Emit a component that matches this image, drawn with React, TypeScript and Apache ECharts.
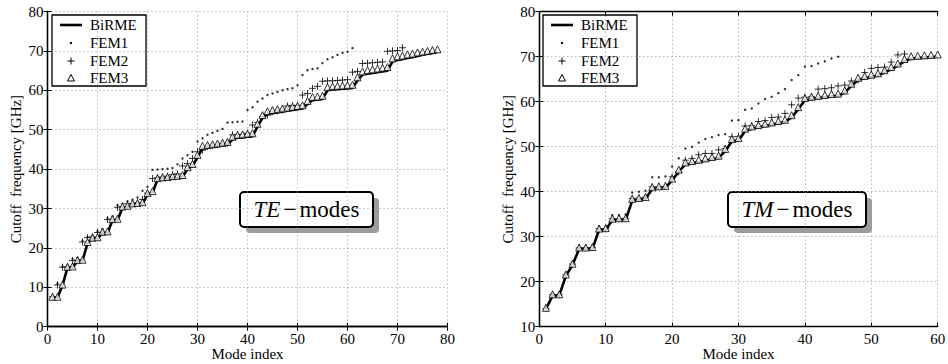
import React, { useEffect, useRef } from "react";
import * as echarts from "echarts";

// ---- TE modes: cutoff frequency [GHz] per mode index (1-based) ----
const teBirme = [
  7.4, 7.4, 10.5, 15.0, 15.0, 16.7, 16.7, 21.2, 22.3, 22.3,
  23.8, 23.8, 27.0, 27.0, 30.2, 30.3, 31.0, 31.0, 31.2, 33.5,
  34.0, 37.3, 37.5, 37.5, 37.7, 37.8, 38.0, 40.0, 40.8, 43.0,
  45.3, 45.5, 45.7, 45.8, 46.0, 46.2, 47.5, 48.0, 48.0, 48.2,
  48.3, 50.8, 53.0, 54.0, 54.2, 54.4, 54.6, 54.8, 55.0, 55.2,
  55.4, 56.5, 57.5, 57.6, 57.8, 60.0, 60.2, 60.3, 60.4, 60.5,
  60.6, 62.5, 64.0, 64.2, 64.4, 64.6, 64.8, 65.0, 67.3, 67.7,
  67.9, 68.2, 68.4, 68.7, 69.0, 69.3, 69.5, 69.8,
];
const teFem1 = [
  7.8, 11.0, 15.3, 15.6, 17.2, 17.5, 21.8, 22.8, 23.2, 24.3,
  24.8, 27.6, 28.0, 30.8, 31.2, 31.8, 32.2, 32.8, 34.5, 35.5,
  39.8, 39.9, 40.0, 40.1, 40.3, 41.2, 42.7, 43.5, 44.4, 47.0,
  47.8, 48.7, 49.2, 49.7, 50.2, 51.8, 51.9, 52.0, 52.1, 55.0,
  55.7, 57.1, 57.9, 58.8, 59.2, 59.6, 60.0, 60.3, 60.5, 61.3,
  63.9, 65.1, 65.4, 65.6, 66.9, 67.9, 68.4, 69.0, 69.5, 69.8,
  70.7,
];
const teFem2 = [
  7.6, 10.6, 15.1, 15.2, 16.8, 16.9, 21.5, 22.6, 22.8, 23.9,
  24.0, 27.2, 27.3, 30.3, 30.5, 31.2, 31.3, 31.5, 32.3, 33.9,
  37.6, 37.8, 38.0, 38.2, 38.6, 38.8, 40.8, 41.4, 42.7, 44.4,
  44.8, 45.7, 45.9, 46.2, 46.5, 46.6, 48.7, 48.8, 48.8, 49.1,
  51.2, 51.8, 53.3, 53.7, 54.6, 54.8, 55.0, 56.0, 56.1, 56.2,
  58.8, 59.2, 60.5, 61.0, 62.3, 62.4, 62.4, 62.5, 62.6, 62.7,
  64.6, 64.8, 66.8, 66.9, 67.0, 67.1, 67.2, 69.9, 70.0, 70.1,
  70.8,
];
const teFem3 = [
  7.6, 7.6, 10.7, 15.2, 15.3, 16.9, 17.0, 21.5, 22.6, 22.7,
  24.1, 24.2, 27.3, 27.4, 30.5, 30.7, 31.3, 31.4, 31.6, 33.9,
  34.4, 37.7, 37.9, 38.0, 38.2, 38.3, 38.5, 40.5, 41.3, 43.6,
  45.9, 46.1, 46.3, 46.5, 46.7, 46.9, 48.2, 48.7, 48.8, 49.0,
  49.1, 51.5, 53.7, 54.7, 55.0, 55.2, 55.4, 55.6, 55.8, 56.0,
  56.2, 57.3, 58.3, 58.4, 58.6, 60.8, 61.0, 61.1, 61.2, 61.3,
  61.4, 63.3, 64.8, 65.1, 65.3, 65.5, 65.7, 65.9, 68.1, 68.6,
  68.8, 69.1, 69.3, 69.6, 69.8, 70.0, 70.2, 70.4,
];

// ---- TM modes ----
const tmBirme = [
  13.9, 16.9, 16.9, 21.3, 23.7, 27.3, 27.3, 27.3, 31.5, 31.5,
  33.7, 33.7, 33.7, 38.0, 38.2, 38.4, 40.6, 40.8, 40.9, 42.5,
  44.5, 46.0, 46.3, 46.6, 46.9, 47.2, 47.5, 49.0, 51.2, 51.4,
  53.5, 54.0, 54.3, 54.6, 54.9, 55.2, 55.5, 56.5, 58.3, 60.3,
  60.6, 60.8, 61.0, 61.2, 61.3, 62.0, 63.5, 64.8, 65.2, 65.5,
  65.8, 66.5, 67.2, 68.0, 69.0, 69.6, 69.7, 69.8, 69.9, 70.0,
];
const tmFem1 = [
  14.0, 17.2, 17.3, 21.7, 24.2, 27.7, 27.8, 28.0, 32.2, 32.3,
  34.8, 34.8, 35.0, 39.8, 40.0, 40.2, 43.2, 43.2, 43.4, 45.6,
  47.4, 49.6, 50.0, 50.9, 51.7, 52.1, 52.6, 52.8, 55.8, 55.9,
  58.2, 58.5, 59.6, 60.6, 61.1, 61.9, 62.8, 64.8, 65.9, 67.8,
  67.9, 68.5, 69.0, 69.6, 70.0,
];
const tmFem2 = [
  14.0, 17.1, 17.1, 21.5, 23.9, 27.5, 27.5, 27.6, 31.8, 31.8,
  34.0, 34.0, 34.1, 38.5, 38.6, 38.8, 41.1, 41.1, 41.2, 43.3,
  44.4, 47.0, 47.4, 48.2, 48.5, 48.5, 49.3, 49.6, 52.2, 52.3,
  54.6, 54.7, 55.6, 55.8, 56.5, 56.6, 57.4, 59.3, 60.8, 61.0,
  61.1, 62.8, 62.9, 63.1, 63.5, 63.7, 64.6, 64.8, 66.5, 67.4,
  67.6, 67.7, 68.8, 70.4, 70.6,
];
const tmFem3 = [
  14.2, 17.2, 17.2, 21.6, 24.0, 27.6, 27.6, 27.7, 31.8, 31.9,
  34.0, 34.1, 34.1, 38.4, 38.6, 38.8, 41.0, 41.2, 41.3, 42.9,
  44.9, 46.5, 46.8, 47.1, 47.4, 47.7, 48.0, 49.5, 51.7, 51.9,
  54.0, 54.5, 54.8, 55.1, 55.4, 55.7, 56.0, 57.0, 58.8, 60.8,
  61.1, 61.3, 61.5, 61.7, 61.8, 62.5, 64.0, 65.3, 65.7, 66.0,
  66.3, 67.0, 67.7, 68.5, 69.5, 70.1, 70.2, 70.3, 70.4, 70.5,
];

// axis ranges
const teXRange = [0, 80];
const teYRange = [0, 80];
const tmXRange = [0, 60];
const tmYRange = [10, 80];
const tickStep = 10;

const legendNames = ["BiRME", "FEM1", "FEM2", "FEM3"];
const panelTitles = [
  { italic: "TE", rest: "modes" },
  { italic: "TM", rest: "modes" },
];

const SERIF = "Liberation Serif";
const PLUS = "path://M0,5L10,5M5,0L5,10";

const toPairs = (vals: number[]) => vals.map((v, i) => [i + 1, v]);

function buildAxes(gridIndex: number, xr: number[], yr: number[]) {
  const line = { show: true, lineStyle: { color: "#000", width: 1.3 } };
  const tick = { show: true, inside: true, length: 4, lineStyle: { color: "#000", width: 1 } };
  const label = {
    show: true,
    color: "#000",
    fontFamily: SERIF,
    fontSize: 15,
    showMinLabel: true,
    showMaxLabel: true,
    hideOverlap: false,
  };
  const split = { show: true, lineStyle: { color: "#9a9a9a", width: 1, type: [1, 3] } };
  const x = [
    {
      type: "value", gridIndex, position: "bottom", min: xr[0], max: xr[1], interval: tickStep,
      axisLine: line, axisTick: tick, axisLabel: { ...label, margin: 5 }, splitLine: split,
      name: "Mode index", nameLocation: "middle", nameGap: 20, nameMoveOverlap: false,
      nameTextStyle: { fontFamily: SERIF, fontSize: 15, color: "#000" },
    },
    {
      type: "value", gridIndex, position: "top", min: xr[0], max: xr[1], interval: tickStep,
      axisLine: line, axisTick: tick, axisLabel: { show: false }, splitLine: { show: false },
    },
  ];
  const y = [
    {
      type: "value", gridIndex, position: "left", min: yr[0], max: yr[1], interval: tickStep,
      axisLine: line, axisTick: tick, axisLabel: { ...label, margin: 4 }, splitLine: split,
      name: "Cutoff  frequency [GHz]", nameLocation: "middle", nameGap: 24, nameMoveOverlap: false,
      nameTextStyle: { fontFamily: SERIF, fontSize: 15, color: "#000" },
    },
    {
      type: "value", gridIndex, position: "right", min: yr[0], max: yr[1], interval: tickStep,
      axisLine: line, axisTick: tick, axisLabel: { show: false }, splitLine: { show: false },
    },
  ];
  return { x, y };
}

function buildSeries(axisBase: number, birme: number[], f1: number[], f2: number[], f3: number[]) {
  const axes = { xAxisIndex: axisBase, yAxisIndex: axisBase };
  return [
    {
      type: "line", name: legendNames[0], ...axes, data: toPairs(birme),
      symbol: "none", lineStyle: { color: "#000", width: 2.6 }, z: 2,
    },
    {
      type: "scatter", name: legendNames[1], ...axes, data: toPairs(f1),
      symbol: "circle", symbolSize: 2.4, itemStyle: { color: "#000" }, z: 3,
    },
    {
      type: "scatter", name: legendNames[2], ...axes, data: toPairs(f2),
      symbol: PLUS, symbolSize: 7,
      itemStyle: { color: "transparent", borderColor: "#000", borderWidth: 1 }, z: 4,
    },
    {
      type: "scatter", name: legendNames[3], ...axes, data: toPairs(f3),
      symbol: "triangle", symbolSize: 7,
      itemStyle: { color: "#fff", borderColor: "#000", borderWidth: 1 }, z: 5,
    },
  ];
}

// Legend block drawn as graphic elements
function legendBlock(left: number, top: number) {
  const rowY = [10, 28, 46, 63];
  const sx = 19; // symbol centre, relative
  const children: any[] = [
    { type: "rect", shape: { x: 0, y: 0, width: 94, height: 71 }, style: { fill: "#fff", stroke: "#000", lineWidth: 1.3 } },
    { type: "line", shape: { x1: 8, y1: rowY[0], x2: 30, y2: rowY[0] }, style: { stroke: "#000", lineWidth: 2.6 } },
    { type: "circle", shape: { cx: sx, cy: rowY[1], r: 1.2 }, style: { fill: "#000" } },
    { type: "line", shape: { x1: sx - 3.5, y1: rowY[2], x2: sx + 3.5, y2: rowY[2] }, style: { stroke: "#000", lineWidth: 1 } },
    { type: "line", shape: { x1: sx, y1: rowY[2] - 3.5, x2: sx, y2: rowY[2] + 3.5 }, style: { stroke: "#000", lineWidth: 1 } },
    {
      type: "polygon",
      shape: { points: [[sx, rowY[3] - 3.5], [sx + 3.5, rowY[3] + 3], [sx - 3.5, rowY[3] + 3]] },
      style: { fill: "#fff", stroke: "#000", lineWidth: 1 },
    },
  ];
  legendNames.forEach((n, i) => {
    children.push({
      type: "text", x: 38, y: rowY[i],
      style: {
        text: n, fill: "#000", fontFamily: SERIF, fontSize: 15,
        verticalAlign: "middle", textVerticalAlign: "middle",
      },
    });
  });
  return { type: "group", x: left, y: top, children, z: 10 };
}

// Rounded label box with a drop shadow
function modeBox(left: number, top: number, width: number, title: { italic: string; rest: string }) {
  const h = 35;
  return {
    type: "group", x: left, y: top, z: 10,
    children: [
      { type: "rect", shape: { x: 6, y: 6, width, height: h, r: 4 }, style: { fill: "#9c9c9c" } },
      { type: "rect", shape: { x: 0, y: 0, width, height: h, r: 4 }, style: { fill: "#fff", stroke: "#000", lineWidth: 2 } },
      {
        type: "text", x: width / 2, y: h / 2,
        style: {
          text: `{a|${title.italic}}{m|\u2212}{b|${title.rest}}`,
          align: "center", verticalAlign: "middle",
          textAlign: "center", textVerticalAlign: "middle",
          rich: {
            a: { fontFamily: SERIF, fontSize: 23, fontStyle: "italic", fill: "#000", color: "#000" },
            m: { fontFamily: SERIF, fontSize: 23, fill: "#000", color: "#000", padding: [0, 3, 0, 3] },
            b: { fontFamily: SERIF, fontSize: 23, fill: "#000", color: "#000" },
          },
        },
      },
    ],
  };
}

// Force the serif face on every SVG text node of the chart
const chartCss = `.mode-chart text, .mode-chart tspan { font-family: "Liberation Serif", "Times New Roman", serif !important; }`;

export default function App() {
  const ref = useRef<HTMLDivElement>(null);

  useEffect(() => {
    if (!ref.current) return;
    const chart = echarts.init(ref.current, undefined, { renderer: "svg" });

    const te = buildAxes(0, teXRange, teYRange);
    const tm = buildAxes(1, tmXRange, tmYRange);

    chart.setOption({
      animation: false,
      backgroundColor: "#fff",
      textStyle: { fontFamily: SERIF },
      grid: [
        { left: 47.5, top: 11.5, width: 400, height: 315.2, outerBoundsMode: "none", containLabel: false },
        { left: 539.3, top: 11.7, width: 398.4, height: 315, outerBoundsMode: "none", containLabel: false },
      ],
      // axis order: [TE bottom, TE top, TM bottom, TM top]
      xAxis: [...te.x, ...tm.x],
      yAxis: [...te.y, ...tm.y],
      series: [
        ...buildSeries(0, teBirme, teFem1, teFem2, teFem3),
        ...buildSeries(2, tmBirme, tmFem1, tmFem2, tmFem3),
      ],
      graphic: [
        legendBlock(52, 15),
        legendBlock(543, 15),
        modeBox(240, 192, 133, panelTitles[0]),
        modeBox(728, 192, 138, panelTitles[1]),
      ],
    });

    return () => chart.dispose();
  }, []);

  return (
    <>
      <style>{chartCss}</style>
      <div
        ref={ref}
        className="mode-chart"
        style={{ position: "absolute", left: 0, top: 0, width: 948, height: 364, background: "#fff" }}
      />
    </>
  );
}
